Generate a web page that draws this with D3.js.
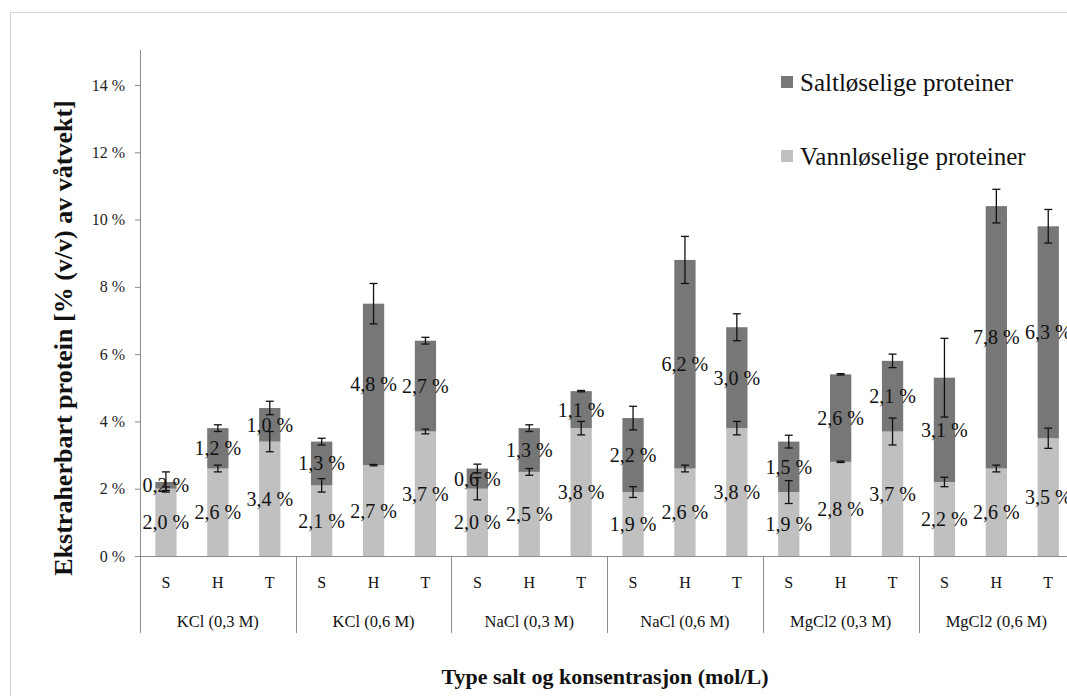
<!DOCTYPE html>
<html>
<head>
<meta charset="utf-8">
<script src="https://cdn.jsdelivr.net/npm/d3@7"></script>
<style>
  html, body { margin: 0; padding: 0; background: #fff; }
  svg { display: block; }
</style>
</head>
<body>
<svg id="chart" width="1067" height="696"></svg>
<script>
// Salts and concentrations (outer groups) and sample types (inner categories)
const groups = ["KCl (0,3 M)", "KCl (0,6 M)", "NaCl (0,3 M)", "NaCl (0,6 M)", "MgCl2 (0,3 M)", "MgCl2 (0,6 M)"];
const types = ["S", "H", "T"];

// Water-soluble proteins (bottom segment), % of wet weight, per group × type
const vannValues = [2.0, 2.6, 3.4, 2.1, 2.7, 3.7, 2.0, 2.5, 3.8, 1.9, 2.6, 3.8, 1.9, 2.8, 3.7, 2.2, 2.6, 3.5];
// Salt-soluble proteins (top segment)
const saltValues = [0.2, 1.2, 1.0, 1.3, 4.8, 2.7, 0.6, 1.3, 1.1, 2.2, 6.2, 3.0, 1.5, 2.6, 2.1, 3.1, 7.8, 6.3];
// Error bar half-lengths for each segment
const vannErr = [0.05, 0.1, 0.3, 0.2, 0.02, 0.07, 0.33, 0.1, 0.2, 0.16, 0.1, 0.2, 0.34, 0.02, 0.4, 0.14, 0.1, 0.3];
const saltErr = [0.3, 0.1, 0.2, 0.1, 0.6, 0.1, 0.13, 0.1, 0.02, 0.35, 0.7, 0.4, 0.19, 0.02, 0.2, 1.17, 0.5, 0.5];

const yTicks = [0, 2, 4, 6, 8, 10, 12, 14];
const seriesNames = ["Saltløselige proteiner", "Vannløselige proteiner"];
const colors = { salt: "#777777", vann: "#c0c0c0" };
const FONT = "'Liberation Serif', 'Times New Roman', serif";

const svg = d3.select("#chart");

// Outer chart frame
svg.append("rect")
  .attr("x", 10.5).attr("y", 12.5)
  .attr("width", 1100).attr("height", 720)
  .attr("fill", "none").attr("stroke", "#d4d4d4").attr("stroke-width", 1);

const plotLeft = 140, groupWidth = 155.7;
const plotRight = plotLeft + groupWidth * groups.length;
const baseY = 556;

// Flat list of categories: one per bar
const cats = [];
groups.forEach((g, gi) => types.forEach((t, ti) => cats.push({ key: gi + "-" + t, group: g, type: t })));

const x = d3.scaleBand().domain(cats.map(c => c.key)).range([plotLeft, plotRight]).padding(0);
const xGroup = d3.scaleBand().domain(groups).range([plotLeft, plotRight]).padding(0);
const y = d3.scaleLinear().domain([0, 14]).range([baseY, 85]);

const barW = x.bandwidth() * 0.41;

const data = cats.map((c, i) => ({
  ...c,
  vann: vannValues[i], salt: saltValues[i],
  vannErr: vannErr[i], saltErr: saltErr[i]
}));

// Y axis
const yAxis = d3.axisLeft(y).tickValues(yTicks).tickSize(5).tickPadding(10)
  .tickFormat(d => d + " %");
const yg = svg.append("g").attr("transform", `translate(${plotLeft},0)`).call(yAxis);
yg.select(".domain").remove();
yg.attr("font-family", null).attr("font-size", null);
yg.selectAll(".tick line").attr("stroke", "#8c8c8c");
yg.selectAll(".tick text").attr("font-size", 16).attr("fill", "#222");
svg.append("line")
  .attr("x1", plotLeft + 0.5).attr("x2", plotLeft + 0.5)
  .attr("y1", 50).attr("y2", baseY)
  .attr("stroke", "#8c8c8c");

// Bars: water-soluble at bottom, salt-soluble stacked above
const bars = svg.append("g");
bars.selectAll("rect.vann").data(data).join("rect")
  .attr("class", "vann")
  .attr("x", d => x(d.key) + (x.bandwidth() - barW) / 2)
  .attr("width", barW)
  .attr("y", d => y(d.vann))
  .attr("height", d => y(0) - y(d.vann))
  .attr("fill", colors.vann);
bars.selectAll("rect.salt").data(data).join("rect")
  .attr("class", "salt")
  .attr("x", d => x(d.key) + (x.bandwidth() - barW) / 2)
  .attr("width", barW)
  .attr("y", d => y(d.vann + d.salt))
  .attr("height", d => y(d.vann) - y(d.vann + d.salt))
  .attr("fill", colors.salt);

// X axis line and group separators
svg.append("line")
  .attr("x1", plotLeft).attr("x2", plotRight + 20)
  .attr("y1", baseY + 0.5).attr("y2", baseY + 0.5)
  .attr("stroke", "#8c8c8c");
svg.append("g").selectAll("line").data(d3.range(groups.length + 1)).join("line")
  .attr("x1", i => Math.round(plotLeft + i * groupWidth) + 0.5)
  .attr("x2", i => Math.round(plotLeft + i * groupWidth) + 0.5)
  .attr("y1", baseY).attr("y2", 633)
  .attr("stroke", "#8c8c8c");

// Error bars
const capW = 4;
function errorBars(top, err) {
  const g = svg.append("g").attr("stroke", "#111").attr("stroke-width", 1.3).attr("fill", "none");
  data.forEach(d => {
    const cx = x(d.key) + x.bandwidth() / 2;
    const v = top(d), e = err(d);
    const y1 = y(v + e), y2 = y(v - e);
    g.append("line").attr("x1", cx).attr("x2", cx).attr("y1", y1).attr("y2", y2);
    g.append("line").attr("x1", cx - capW).attr("x2", cx + capW).attr("y1", y1).attr("y2", y1);
    g.append("line").attr("x1", cx - capW).attr("x2", cx + capW).attr("y1", y2).attr("y2", y2);
  });
}
errorBars(d => d.vann, d => d.vannErr);
errorBars(d => d.vann + d.salt, d => d.saltErr);

// Value labels, centred in each segment
const fmt = v => v.toFixed(1).replace(".", ",") + " %";
const labels = svg.append("g").attr("font-size", 20).attr("fill", "#111").attr("text-anchor", "middle");
labels.selectAll("text.vann").data(data).join("text")
  .attr("class", "vann")
  .attr("x", d => x(d.key) + x.bandwidth() / 2)
  .attr("y", d => y(d.vann / 2))
  .attr("dy", "0.35em")
  .text(d => fmt(d.vann));
labels.selectAll("text.salt").data(data).join("text")
  .attr("class", "salt")
  .attr("x", d => x(d.key) + x.bandwidth() / 2)
  .attr("y", d => y(d.vann + d.salt / 2))
  .attr("dy", "0.35em")
  .text(d => fmt(d.salt));

// Category labels (S/H/T) and group labels
svg.append("g").attr("font-size", 16).attr("text-anchor", "middle").attr("fill", "#111")
  .selectAll("text").data(cats).join("text")
  .attr("x", c => x(c.key) + x.bandwidth() / 2)
  .attr("y", 588)
  .text(c => c.type);
svg.append("g").attr("font-size", 16.5).attr("text-anchor", "middle").attr("fill", "#111")
  .selectAll("text").data(groups).join("text")
  .attr("x", g => xGroup(g) + xGroup.bandwidth() / 2)
  .attr("y", 627)
  .text(g => g);

// Axis titles
svg.append("text")
  .attr("x", 605).attr("y", 684)
  .attr("text-anchor", "middle").attr("font-size", 22).attr("font-weight", "bold")
  .attr("fill", "#111")
  .text("Type salt og konsentrasjon (mol/L)");
svg.append("text")
  .attr("transform", "translate(72,338) rotate(-90)")
  .attr("text-anchor", "middle").attr("font-size", 26).attr("font-weight", "bold")
  .attr("fill", "#111")
  .text("Ekstraherbart protein [% (v/v) av våtvekt]");

// Legend
const legend = svg.append("g");
const legendItems = [
  { name: seriesNames[0], color: colors.salt, y: 82 },
  { name: seriesNames[1], color: colors.vann, y: 156 }
];
legendItems.forEach(it => {
  legend.append("rect").attr("x", 781).attr("y", it.y - 6).attr("width", 12).attr("height", 12).attr("fill", it.color);
  legend.append("text").attr("x", 800).attr("y", it.y).attr("dy", "0.35em")
    .attr("font-size", 25).attr("fill", "#111").text(it.name);
});

// Every text uses the serif face
svg.selectAll("text").attr("font-family", FONT);
</script>
</body>
</html>
